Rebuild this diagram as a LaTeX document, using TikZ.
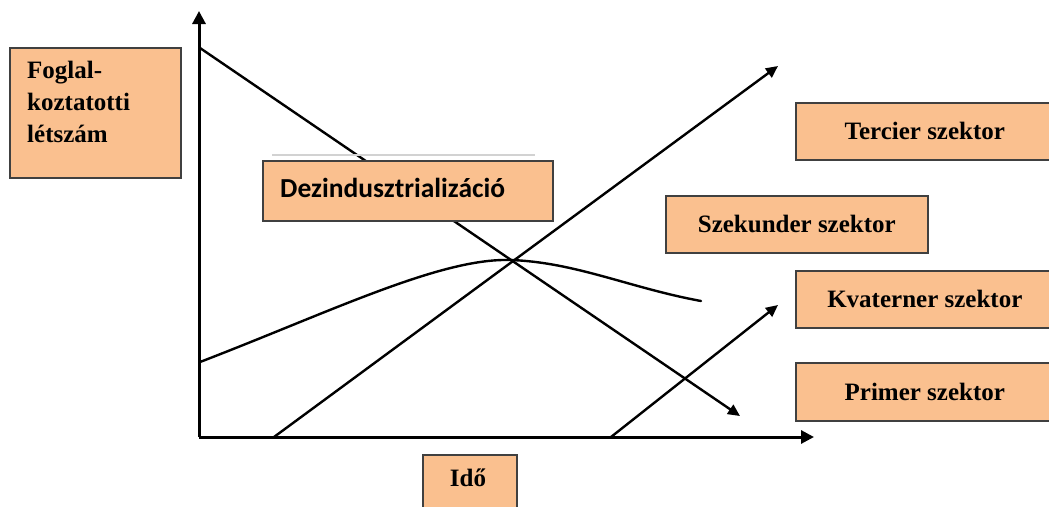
\documentclass[tikz,border=0pt]{standalone}
\usepackage{fontspec}
\setmainfont{Liberation Serif}
\newfontfamily\calfont{Carlito}
\usetikzlibrary{arrows.meta}
\definecolor{boxfill}{RGB}{250,192,143}
\definecolor{boxedge}{RGB}{64,64,64}
\tikzset{
  box/.style={draw=boxedge, fill=boxfill, line width=1.6pt, rectangle, inner sep=0pt},
  lbl/.style={font=\fontsize{25}{32}\selectfont\bfseries, inner sep=0pt},
  axis/.style={line width=3pt, -{Triangle[length=13pt,width=13pt]}},
  trend/.style={line width=2.4pt, line cap=round},
  trendarrow/.style={trend, -{Triangle[length=12pt,width=11pt]}},
}
\begin{document}
\begin{tikzpicture}[x=1pt,y=-1pt]
\useasboundingbox (0,0) rectangle (1049,506);

% axes
\coordinate (origin) at (199,437);
\coordinate (ytop) at (199,11);
\coordinate (xend) at (814,437);
\draw[axis] (origin) -- (ytop);
\draw[axis] (origin) -- (xend);

% trend lines
\coordinate (primA) at (200,48);
\coordinate (primB) at (740,416);
\coordinate (terA) at (274,437);
\coordinate (terB) at (778,66);
\coordinate (kvaA) at (611,437);
\coordinate (kvaB) at (778,305);
\coordinate (szekA) at (200,362);
\coordinate (szekTop) at (510,260);
\coordinate (szekB) at (701,301);
\draw[trendarrow] (primA) -- (primB);
\draw[trendarrow] (terA) -- (terB);
\draw[trendarrow] (kvaA) -- (kvaB);
\draw[trend] (szekA) .. controls (330,312) and (440,258) .. (szekTop)
  .. controls (575,262) and (630,288) .. (szekB);

% vertical axis label
\node[box, anchor=north west, minimum width=171pt, minimum height=130pt] (empbox) at (9,47) {};
\node[lbl, anchor=north west, align=left] (emptext) at (27,61) {Foglal-\\koztatotti\\létszám};

% deindustrialisation label
\draw[gray!35, line width=2pt] (272,155) -- (535,155);
\node[box, anchor=north west, minimum width=290pt, minimum height=60pt] (dezbox) at (262,160) {};
\node[anchor=west, inner sep=0pt, font=\calfont\fontsize{27.5}{30}\selectfont\bfseries] (deztext) at (280,188) {Dezindusztrializáció};

% sector labels
\node[box, lbl, anchor=north west, minimum width=258pt, minimum height=57pt] (tercier) at (795,102) {Tercier szektor};
\node[box, lbl, anchor=north west, minimum width=262pt, minimum height=57pt] (szekunder) at (665,195) {Szekunder szektor};
\node[box, lbl, anchor=north west, minimum width=258pt, minimum height=57pt] (kvaterner) at (795,270) {Kvaterner szektor};
\node[box, lbl, anchor=north west, minimum width=258pt, minimum height=58pt] (primer) at (795,362) {Primer szektor};

% horizontal axis label
\node[box, anchor=north west, minimum width=94pt, minimum height=70pt] (idobox) at (422,454) {};
\node[lbl] (idotext) at (468,478) {Idő};
\end{tikzpicture}
\end{document}
